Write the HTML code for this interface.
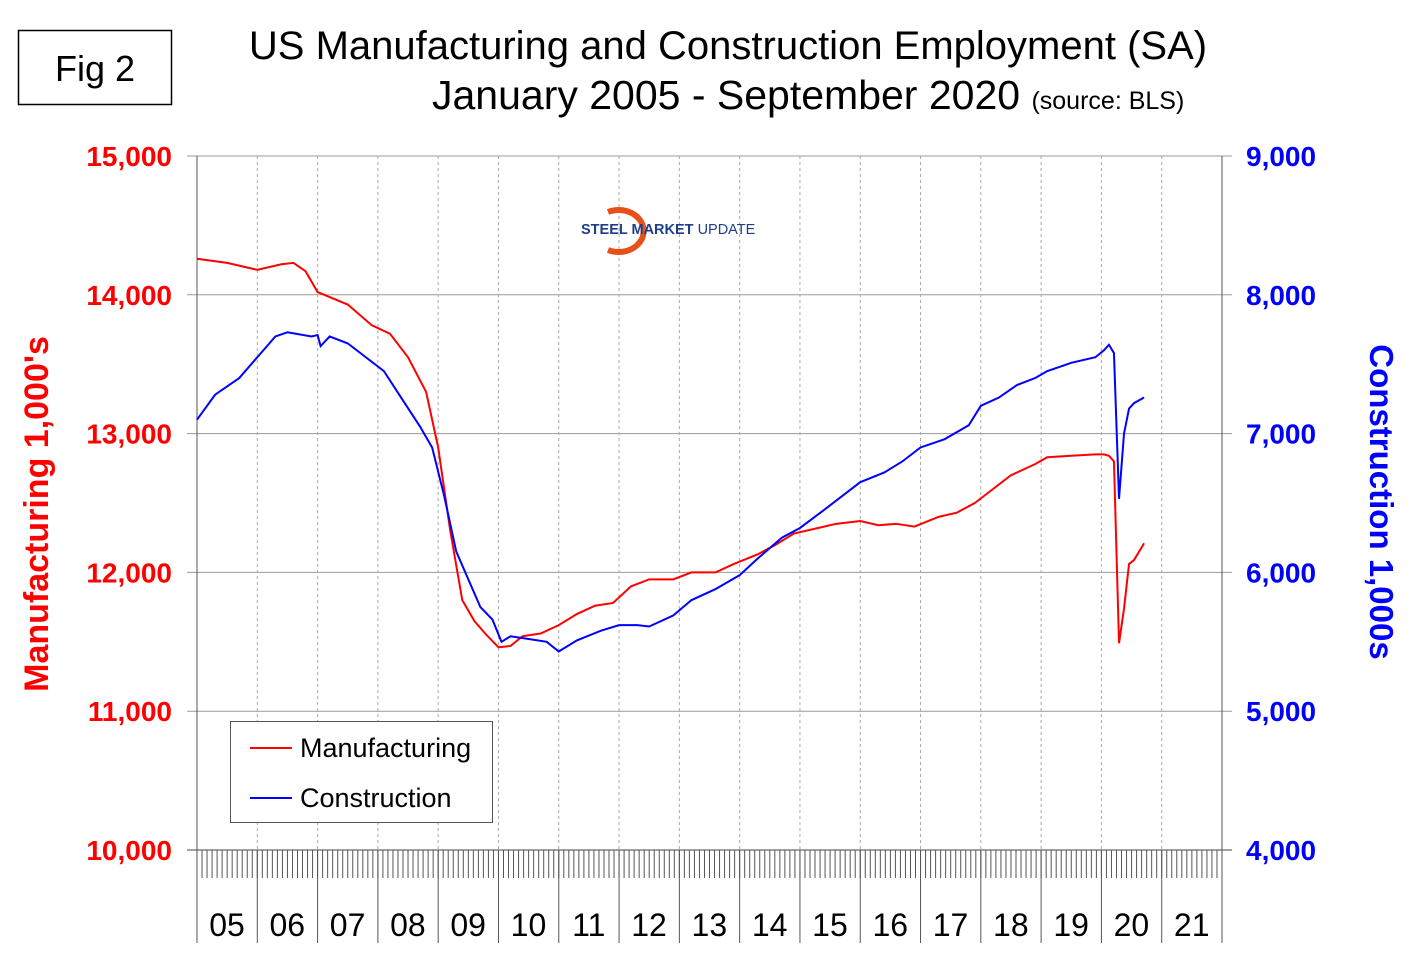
<!DOCTYPE html>
<html><head><meta charset="utf-8"><style>
body{margin:0;background:#fff;font-family:"Liberation Sans",sans-serif}
svg text{font-family:"Liberation Sans",sans-serif}
</style></head><body>
<svg width="1420" height="973" xmlns="http://www.w3.org/2000/svg">
<rect x="18.5" y="30.5" width="153" height="74" fill="#fff" stroke="#000" stroke-width="1.5"/>
<text x="95" y="81" font-size="36" text-anchor="middle">Fig 2</text>
<text x="728" y="59" font-size="40" text-anchor="middle">US Manufacturing and Construction Employment (SA)</text>
<text x="432" y="109" font-size="41">January 2005 - September 2020 <tspan font-size="25">(source: BLS)</tspan></text>
<g id="grid"></g>
<g>
<path d="M608,212 A25,21 0 1 1 608,250" fill="none" stroke="#e8501a" stroke-width="6"/>
<text x="581" y="234" font-size="14.5" font-weight="bold" fill="#1d3f8a">STEEL <tspan>MARKET</tspan> <tspan font-weight="normal">UPDATE</tspan></text>
</g>
<g id="series"></g>
<g>
<rect x="230.5" y="721.5" width="262" height="101" fill="#fff" stroke="#555"/>
<line x1="250" y1="748" x2="292" y2="748" stroke="#f00" stroke-width="2"/>
<text x="300" y="757" font-size="27">Manufacturing</text>
<line x1="250" y1="798" x2="292" y2="798" stroke="#00f" stroke-width="2"/>
<text x="300" y="807" font-size="27">Construction</text>
</g>
<text transform="translate(48,514) rotate(-90)" font-size="34" font-weight="bold" fill="#f00" text-anchor="middle">Manufacturing  1,000's</text>
<text transform="translate(1370,502) rotate(90)" font-size="33" font-weight="bold" fill="#00f" text-anchor="middle">Construction 1,000s</text>
</svg>
<script>
const leftTicks=[10000,11000,12000,13000,14000,15000];
const rightTicks=[4000,5000,6000,7000,8000,9000];
const yearLabels=["05","06","07","08","09","10","11","12","13","14","15","16","17","18","19","20","21"];
const mfgT=[2005.0,2005.5,2006.0,2006.4,2006.6,2006.8,2007.0,2007.5,2007.9,2008.2,2008.5,2008.8,2009.0,2009.2,2009.4,2009.6,2009.8,2010.0,2010.2,2010.4,2010.7,2011.0,2011.3,2011.6,2011.9,2012.2,2012.5,2012.9,2013.2,2013.6,2013.9,2014.3,2014.6,2014.9,2015.3,2015.6,2016.0,2016.3,2016.6,2016.9,2017.3,2017.6,2017.9,2018.2,2018.5,2018.9,2019.1,2019.5,2019.9,2020.042,2020.125,2020.208,2020.292,2020.375,2020.458,2020.542,2020.625,2020.708];
const mfgV=[14260,14230,14180,14220,14230,14170,14020,13930,13780,13720,13550,13300,12900,12300,11800,11650,11550,11460,11470,11540,11560,11620,11700,11760,11780,11900,11950,11950,12000,12000,12060,12130,12200,12280,12320,12350,12370,12340,12350,12330,12400,12430,12500,12600,12700,12780,12830,12840,12850,12850,12840,12800,11490,11740,12060,12090,12150,12210];
const conT=[2005.0,2005.3,2005.7,2006.0,2006.3,2006.5,2006.9,2007.0,2007.05,2007.2,2007.5,2007.8,2008.1,2008.4,2008.7,2008.9,2009.1,2009.3,2009.5,2009.7,2009.9,2010.05,2010.2,2010.5,2010.8,2011.0,2011.3,2011.7,2012.0,2012.3,2012.5,2012.9,2013.2,2013.6,2014.0,2014.3,2014.7,2015.0,2015.4,2015.7,2016.0,2016.4,2016.7,2017.0,2017.4,2017.8,2018.0,2018.3,2018.6,2018.9,2019.1,2019.5,2019.9,2020.042,2020.125,2020.208,2020.292,2020.375,2020.458,2020.542,2020.625,2020.708];
const conV=[7100,7280,7400,7550,7700,7730,7700,7710,7630,7700,7650,7550,7450,7250,7050,6900,6550,6150,5950,5750,5660,5500,5540,5520,5500,5430,5510,5580,5620,5620,5610,5690,5800,5880,5980,6100,6250,6320,6450,6550,6650,6720,6800,6900,6960,7060,7200,7260,7350,7400,7450,7510,7550,7600,7640,7580,6530,7000,7180,7220,7240,7260];
const X0=197,X1=1222,Y0=156,Y1=850,NS="http://www.w3.org/2000/svg";
const xs=t=>X0+(t-2005)*(X1-X0)/17;
const yL=v=>Y1-(v-10000)/5000*(Y1-Y0);
const yR=v=>Y1-(v-4000)/5000*(Y1-Y0);
function mk(tag,at,parent){const e=document.createElementNS(NS,tag);for(const k in at)e.setAttribute(k,at[k]);parent.appendChild(e);return e;}
const g=document.getElementById('grid');
leftTicks.forEach((v,i)=>{
 const y=yL(v);
 const l=mk('line',{x1:187,x2:1232,y1:y,y2:y,stroke:i==0?'#444':'#999','stroke-width':1},g);
 
 
 const t=mk('text',{x:172,y:y+10,'font-size':28,'font-weight':'bold',fill:'#f00','text-anchor':'end'},g);t.textContent=v.toLocaleString('en-US');
 
 
});
rightTicks.forEach(v=>{
 const y=yR(v);
 const t=mk('text',{x:1246,y:y+10,'font-size':28,'font-weight':'bold',fill:'#00f'},g);t.textContent=v.toLocaleString('en-US');
 
 
});
mk('line',{x1:X0,x2:X0,y1:Y0,y2:943,stroke:'#555'},g);
mk('line',{x1:X1,x2:X1,y1:Y0,y2:943,stroke:'#555'},g);
for(let m=0;m<=204;m++){const x=X0+m*(X1-X0)/204;mk('line',{x1:x,x2:x,y1:Y1,y2:878,stroke:'#555','stroke-width':1},g);}
yearLabels.forEach((lab,i)=>{
 const x=xs(2005+i);
 if(i>0){mk('line',{x1:x,x2:x,y1:Y0,y2:Y1,stroke:'#aaa','stroke-dasharray':'3,3'},g);mk('line',{x1:x,x2:x,y1:Y1,y2:943,stroke:'#555'},g);}
 const t=mk('text',{x:x+30,y:936,'font-size':32,'text-anchor':'middle'},g);t.textContent=lab;
 
 
});
const s=document.getElementById('series');
const p1=mk('polyline',{points:mfgT.map((t,i)=>xs(t)+','+yL(mfgV[i])).join(' '),fill:'none',stroke:'#f00','stroke-width':2},s);


const p2=mk('polyline',{points:conT.map((t,i)=>xs(t)+','+yR(conV[i])).join(' '),fill:'none',stroke:'#00f','stroke-width':2},s);


</script>
</body></html>
